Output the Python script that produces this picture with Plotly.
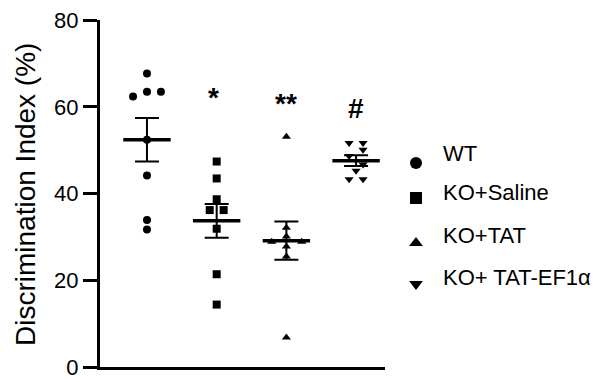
import numpy as np
import plotly.graph_objects as go

# ---- data ----
groups = ["WT", "KO+Saline", "KO+TAT", "KO+ TAT-EF1α"]
wt = [67.7, 63.5, 63.5, 62.4, 52.4, 44.2, 33.9, 31.7]
ko_saline = [47.4, 43.5, 38.7, 36.2, 36.2, 31.9, 21.4, 14.4]
ko_tat = [53.1, 32.1, 30.1, 28.9, 28.9, 27.8, 25.5, 6.8]
ko_tat_ef1a = [51.7, 51.7, 50.1, 48.7, 46.7, 45.3, 43.3, 43.3]
series = [wt, ko_saline, ko_tat, ko_tat_ef1a]
significance = ["", "*", "**", "#"]
y_ticks = [0, 20, 40, 60, 80]

# jitter (horizontal scatter offsets within each group, in category units)
jitter = [
    [0, 0.2, 0, -0.2, 0, 0, 0, 0],
    [0, 0, 0, -0.1, 0.1, 0, 0, 0],
    [0, 0, 0, -0.21, 0.22, 0, 0, 0],
    [-0.1, 0.1, 0.1, -0.1, 0.1, 0, -0.1, 0.1],
]
symbols = ["circle", "square", "triangle-up", "triangle-down"]

FONT = "Liberation Sans, Arial, sans-serif"
PAGE_W, PAGE_H = 614, 382
OFF = 8  # page body margin
W, H = PAGE_W - OFF, PAGE_H - OFF
Y_TOP = 80.05


def px_x(px):
    return (px - OFF) / W


def px_y(py):
    return 1 - (py - OFF) / H


fig = go.Figure()

# mean lines and SEM bars
for i, vals in enumerate(series):
    v = np.array(vals)
    m = v.mean()
    sem = v.std(ddof=1) / np.sqrt(len(v))
    fig.add_trace(go.Scatter(
        x=[i - 0.34, i + 0.34], y=[m, m], mode="lines",
        line=dict(color="black", width=3.5), showlegend=False, hoverinfo="skip",
        cliponaxis=False))
    fig.add_trace(go.Scatter(
        x=[i], y=[m], mode="markers", marker=dict(size=1, color="rgba(0,0,0,0)"),
        error_y=dict(type="data", array=[sem], visible=True, color="black",
                     thickness=2, width=12),
        showlegend=False, hoverinfo="skip", cliponaxis=False))

# points
for i, vals in enumerate(series):
    fig.add_trace(go.Scatter(
        x=[i + j for j in jitter[i]], y=vals, mode="markers",
        marker=dict(symbol=symbols[i], size=8, color="black", line=dict(width=0)),
        name=groups[i], showlegend=False, cliponaxis=False))

# significance marks
sig_y = [0, 62.2, 60.7, 59.7]
for i, s in enumerate(significance):
    if s:
        fig.add_annotation(x=i - (0.04 if i == 1 else 0), y=sig_y[i], xref="x", yref="y",
                           text="<b>%s</b>" % s, showarrow=False,
                           font=dict(family=FONT, size=28, color="black"),
                           xanchor="center", yanchor="middle")

# legend drawn on a pixel-coordinate helper subplot
leg_marker_y = [163, 198, 243, 284]
leg_text_y = [153, 192, 235, 277]
for i, g in enumerate(groups):
    fig.add_trace(go.Scatter(
        x=[416], y=[leg_marker_y[i]], xaxis="x2", yaxis="y2", mode="markers",
        marker=dict(symbol=symbols[i], size=12, color="black", line=dict(width=0)),
        showlegend=False, hoverinfo="skip"))
    fig.add_annotation(x=441, y=leg_text_y[i], xref="x2", yref="y2", text=g,
                       showarrow=False, xanchor="left", yanchor="middle",
                       font=dict(family=FONT, size=22, color="black"))

# y axis title
fig.add_annotation(x=25, y=195, xref="x2", yref="y2", text="Discrimination Index (%)",
                   showarrow=False, textangle=-90, xanchor="center", yanchor="middle",
                   font=dict(family=FONT, size=28, color="black"))

fig.update_layout(
    width=W, height=H, margin=dict(l=0, r=0, t=0, b=0, autoexpand=False),
    paper_bgcolor="white", plot_bgcolor="rgba(0,0,0,0)", showlegend=False,
    xaxis=dict(domain=[px_x(100), px_x(385)], range=[-0.674, 3.415], showgrid=False,
               zeroline=False, showticklabels=False, ticks="", showline=True,
               linecolor="black", linewidth=3, fixedrange=True, anchor="y"),
    yaxis=dict(domain=[px_y(367), px_y(20)], range=[0, Y_TOP], showgrid=False,
               zeroline=False, tickmode="array", tickvals=y_ticks,
               ticktext=[str(t) for t in y_ticks], ticks="outside", ticklen=14,
               tickwidth=3, tickcolor="black", showline=True, linecolor="black",
               linewidth=3, tickfont=dict(family=FONT, size=22, color="black"),
               anchor="x", ticklabeloverflow="allow"),
    xaxis2=dict(domain=[0, 1], range=[OFF, PAGE_W], visible=False, anchor="y2"),
    yaxis2=dict(domain=[0, 1], range=[PAGE_H, OFF], visible=False, anchor="x2"),
)

fig.write_html("out.html")
